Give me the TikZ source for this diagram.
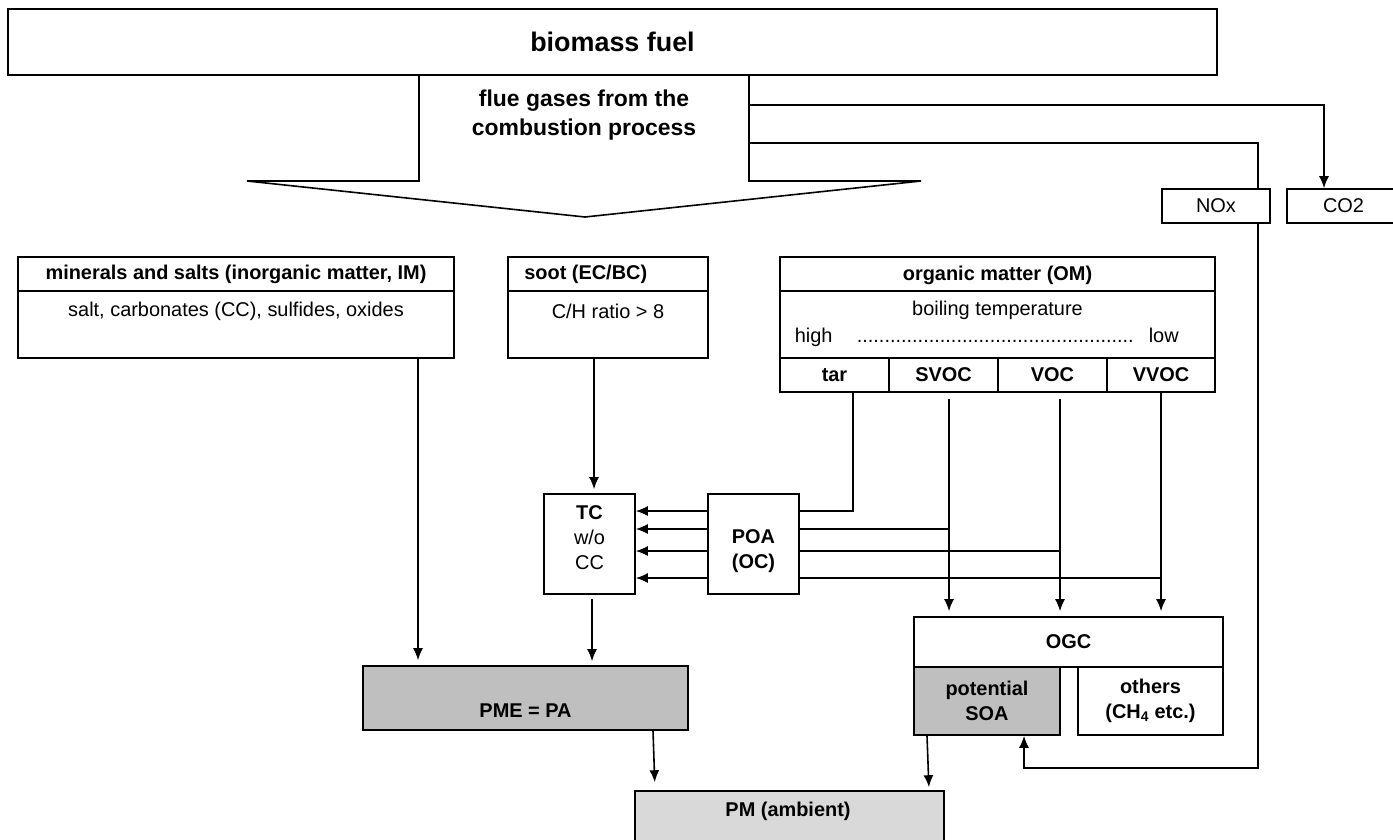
\documentclass[tikz,border=0pt]{standalone}
\usepackage{fontspec}
\setmainfont{Liberation Sans}
\usetikzlibrary{arrows.meta}
\definecolor{pmefill}{RGB}{191,191,191}
\definecolor{pmfill}{RGB}{217,217,217}

\begin{document}
\begin{tikzpicture}[x=1bp,y=-1bp,>={Latex[length=12bp,width=10bp]},line width=1.6bp,
    box/.style={draw,inner sep=0pt},
    txt/.style={font=\fontsize{20}{25}\selectfont},
    btxt/.style={font=\fontsize{20}{25}\selectfont\bfseries},
  ]
    \useasboundingbox (0,0) rectangle (1393,839);
    %%
    \node (fuel) at (612.5,42) [box,minimum width=1209bp,minimum height=66bp,font=\fontsize{27}{32}\selectfont\bfseries] {biomass fuel};
    \draw (fuel.south -| 419,0) -- (419,181) -- (247,181) -- (585,217) -- (921,181) -- (749,181) -- (fuel.south -| 749,0);
    \node (flue) at (584,115) [align=center,font=\fontsize{23}{29}\selectfont\bfseries] {flue gases from the\\combustion process};
    \coordinate (gas1) at (749,105);
    \coordinate (gas2) at (749,143);
    \node (nox) at (1216,206) [box,minimum width=108bp,minimum height=34bp,txt] {NOx};
    \node (co2) at (1343.5,206) [box,minimum width=113bp,minimum height=34bp,txt] {CO2};
    \draw[->] (gas1) -| (1324,0 |- co2.north);
    \draw (gas2) -| (1258,0 |- nox.north);
    %
    \node (min) at (236,307.5) [box,minimum width=436bp,minimum height=101bp] {};
    \draw (min.west |- 0,291) -- (min.east |- 0,291);
    \node (minhead) at (236,274) [btxt] {minerals and salts (inorganic matter, IM)};
    \node (minbody) at (236,311) [txt] {salt, carbonates (CC), sulfides, oxides};
    \node (soot) at (608,307.5) [box,minimum width=200bp,minimum height=101bp] {};
    \draw (soot.west |- 0,291) -- (soot.east |- 0,291);
    \node (soothead) at (soot.west |- 0,274) [btxt,anchor=west,xshift=13bp] {soot (EC/BC)};
    \node (sootbody) at (608,311) [txt] {C/H ratio > 8};
    \node (om) at (997.5,307.5) [box,minimum width=435bp,minimum height=101bp] {};
    \draw (om.west |- 0,291) -- (om.east |- 0,291);
    \node (omhead) at (997.5,275) [btxt] {organic matter (OM)};
    \node (omboil) at (997.5,310) [txt] {boiling temperature};
    \node (high) at (794,342) [txt,anchor=base west,inner sep=0pt] {high};
    \node (dots) at (856,342) [txt,anchor=base west,inner sep=0pt] {\foreach \i in {1,...,50}{.}};
    \node (low) at (1148,342) [txt,anchor=base west,inner sep=0pt] {low};
    \node (tar) at (834.5,375) [box,minimum width=109bp,minimum height=34bp,btxt] {tar};
    \node (svoc) at (943.5,375) [box,minimum width=109bp,minimum height=34bp,btxt] {SVOC};
    \node (voc) at (1052.5,375) [box,minimum width=109bp,minimum height=34bp,btxt] {VOC};
    \node (vvoc) at (1161,375) [box,minimum width=108bp,minimum height=34bp,btxt] {VVOC};
    %
    \node (tc) at (589.5,544) [box,minimum width=91bp,minimum height=100bp] {};
    \node (tctext) at (589.5,538) [txt,align=center] {\textbf{TC}\\w/o\\CC};
    \node (poa) at (753.5,544) [box,minimum width=91bp,minimum height=100bp] {};
    \node (poatext) at (753.5,551) [btxt,align=center] {POA\\(OC)};
    \node (ogc) at (1068.5,642) [box,minimum width=309bp,minimum height=50bp,btxt] {OGC};
    \node (soa) at (987,701) [box,fill=pmefill,minimum width=146bp,minimum height=68bp,btxt,align=center] {potential\\SOA};
    \node (oth) at (1150.5,701) [box,minimum width=145bp,minimum height=68bp,btxt,align=center] {others\\(CH\textsubscript{4} etc.)};
    \node (pme) at (525.5,698) [box,fill=pmefill,minimum width=325bp,minimum height=64bp] {};
    \node (pmetext) at (525.5,711) [btxt] {PME = PA};
    \node (pm) at (789.5,818) [box,fill=pmfill,minimum width=309bp,minimum height=54bp] {};
    \node (pmtext) at (788,811) [btxt] {PM (ambient)};
    %
    \draw[->,shorten >=5bp] (418,0 |- min.south) -- (418,0 |- pme.north);
    \draw[->,shorten >=4bp] (594,0 |- soot.south) -- (594,0 |- tc.north);
    \draw[->,shorten <=4bp,shorten >=4bp] (592,0 |- tc.south) -- (592,0 |- pme.north);
    \draw[->,shorten >=8bp] (653,0 |- pme.south) -- (655,0 |- pm.north);
    \draw[->,shorten >=3bp] (927,0 |- soa.south) -- (929,0 |- pm.north);
    \draw (853,0 |- tar.south) |- (poa.east |- 0,511);
    \draw[->,shorten <=6bp,shorten >=5bp] (949,0 |- svoc.south) -- (949,0 |- ogc.north);
    \draw (949,529) -- (poa.east |- 0,529);
    \draw[->,shorten <=6bp,shorten >=5bp] (1060,0 |- voc.south) -- (1060,0 |- ogc.north);
    \draw (1060,551) -- (poa.east |- 0,551);
    \draw[->,shorten >=5bp] (1161,0 |- vvoc.south) -- (1161,0 |- ogc.north);
    \draw (1161,578) -- (poa.east |- 0,578);
    \foreach \y in {511,529,551,578}
      \draw[->] (poa.west |- 0,\y) -- (tc.east |- 0,\y);
    \draw[->] (1258,0 |- nox.south) -- (1258,768) -| (1024,0 |- soa.south);
    %
\end{tikzpicture}
\end{document}
